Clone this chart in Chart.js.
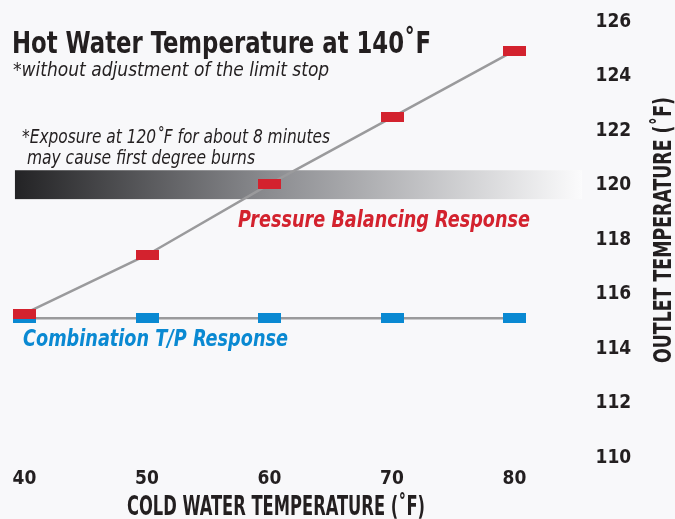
<!DOCTYPE html>
<html>
<head>
<meta charset="utf-8">
<script src="https://cdn.jsdelivr.net/npm/chart.js@4/dist/chart.umd.min.js"></script>
<style>
  html, body { margin: 0; padding: 0; background: #f8f8fa; }
  #wrap { position: relative; width: 675px; height: 519px; }
</style>
</head>
<body>
<div id="wrap"><canvas id="c"></canvas></div>
<script>
// ---- data ----
const coldWaterTemps = [40, 50, 60, 70, 80];
const pressureBalancing = [115.3, 117.45, 120.05, 122.5, 124.95];
const combinationTP = [115.13, 115.13, 115.13, 115.13, 115.13];
const yTicks = [110, 112, 114, 116, 118, 120, 122, 124, 126];
const xTicks = [40, 50, 60, 70, 80];

const FONT = '"DejaVu Sans Condensed", "DejaVu Sans", sans-serif';
const RED = '#d3222e';
const BLUE = '#0a89d2';
const LINE = '#9a9a9c';
const INK = '#231f20';

function rectMarker(color) {
  const c = document.createElement('canvas');
  c.width = 23; c.height = 10;
  const g = c.getContext('2d');
  g.fillStyle = color;
  g.fillRect(0, 0, 23, 10);
  return c;
}

// burn-risk band around 120˚F (data units)
const BAND = { xFrom: 39.22, xTo: 85.5, yFrom: 119.5, yTo: 120.56 };

const bandPlugin = {
  id: 'band',
  beforeDatasetsDraw(chart) {
    const { ctx, scales: { x, y } } = chart;
    const x0 = x.getPixelForValue(BAND.xFrom), x1 = x.getPixelForValue(BAND.xTo);
    const y0 = y.getPixelForValue(BAND.yTo), y1 = y.getPixelForValue(BAND.yFrom);
    const grad = ctx.createLinearGradient(x0, 0, x1, 0);
    grad.addColorStop(0, '#232325');
    grad.addColorStop(0.45, '#8b8c90');
    grad.addColorStop(1, '#fbfbfc');
    ctx.save();
    ctx.fillStyle = grad;
    ctx.fillRect(x0, y0, x1 - x0, y1 - y0);
    ctx.restore();
  }
};

const textPlugin = {
  id: 'texts',
  afterDraw(chart) {
    const { ctx, scales: { x, y } } = chart;
    ctx.save();
    ctx.textBaseline = 'alphabetic';
    ctx.textAlign = 'left';
    ctx.fillStyle = INK;
    ctx.font = 'bold 30px ' + FONT;
    ctx.fillText('Hot Water Temperature at 140˚F', 12, 53, 419);
    ctx.font = 'italic 19px ' + FONT;
    ctx.fillText('*without adjustment of the limit stop', 13, 76, 317);
    ctx.fillText('*Exposure at 120˚F for about 8 minutes', 22, 143, 308);
    ctx.fillText(' may cause first degree burns', 22, 164, 233);
    ctx.font = 'italic bold 23px ' + FONT;
    ctx.fillStyle = RED;
    ctx.fillText('Pressure Balancing Response', x.getPixelForValue(57.43), y.getPixelForValue(118.47), 292);
    ctx.fillStyle = BLUE;
    ctx.fillText('Combination T/P Response', x.getPixelForValue(39.88), y.getPixelForValue(114.12), 265);
    // axis titles
    ctx.fillStyle = INK;
    ctx.font = 'bold 26px ' + FONT;
    ctx.textAlign = 'center';
    ctx.fillText('COLD WATER TEMPERATURE (˚F)', 276, 515, 298);
    ctx.translate(671, 230);
    ctx.rotate(-Math.PI / 2);
    ctx.font = 'bold 25px ' + FONT;
    ctx.fillText('OUTLET TEMPERATURE (˚F)', 0, 0, 266);
    ctx.restore();
  }
};

new Chart(document.getElementById('c'), {
  type: 'line',
  data: {
    datasets: [
      {
        label: 'Pressure Balancing Response',
        data: coldWaterTemps.map((t, i) => ({ x: t, y: pressureBalancing[i] })),
        borderColor: LINE, borderWidth: 2.5, clip: false,
        pointStyle: rectMarker(RED), pointRadius: 10, pointHoverRadius: 10,
        tension: 0
      },
      {
        label: 'Combination T/P Response',
        data: coldWaterTemps.map((t, i) => ({ x: t, y: combinationTP[i] })),
        borderColor: LINE, borderWidth: 2.5, clip: false,
        pointStyle: rectMarker(BLUE), pointRadius: 10, pointHoverRadius: 10,
        tension: 0
      }
    ]
  },
  options: {
    responsive: true,
    maintainAspectRatio: false,
    animation: false,
    events: [],
    layout: { padding: { left: 24.5, top: 22, right: 0, bottom: 0 } },
    plugins: { legend: { display: false }, tooltip: { enabled: false } },
    scales: {
      x: {
        type: 'linear', min: 40, max: 80,
        afterBuildTicks: s => { s.ticks = xTicks.map(v => ({ value: v })); },
        afterFit: s => { s.height = 61; s.paddingLeft = 0; s.paddingRight = 0; },
        grid: { display: false, drawTicks: false },
        border: { display: false },
        ticks: { color: INK, font: { family: FONT, size: 19, weight: 'bold' }, padding: 10, maxRotation: 0 }
      },
      y: {
        type: 'linear', position: 'right', min: 110, max: 126,
        afterBuildTicks: s => { s.ticks = yTicks.map(v => ({ value: v })); },
        afterFit: s => { s.width = 160.5; s.paddingTop = 0; s.paddingBottom = 0; },
        grid: { display: false, drawTicks: false },
        border: { display: false },
        ticks: { color: INK, font: { family: FONT, size: 19, weight: 'bold' }, padding: 81 }
      }
    }
  },
  plugins: [bandPlugin, textPlugin]
});
</script>
</body>
</html>
